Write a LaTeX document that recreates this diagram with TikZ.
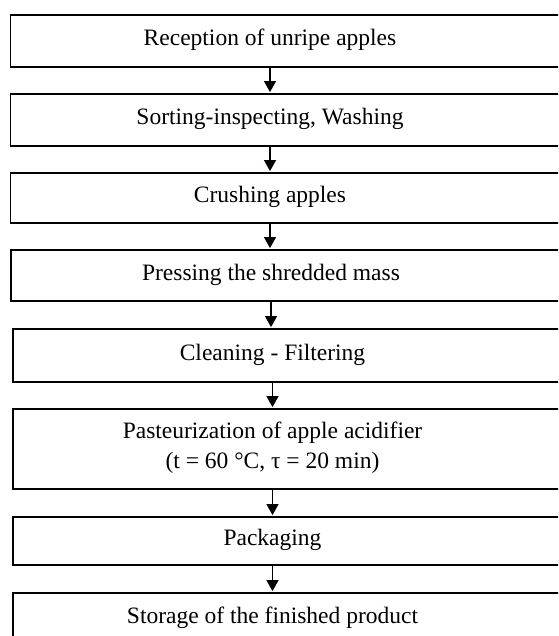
\documentclass[tikz,border=0pt]{standalone}
\usepackage{fontspec}
\setmainfont{Liberation Serif}
\usetikzlibrary{arrows.meta}
\tikzset{
  stepbox/.style={draw, line width=1.8pt, anchor=north west, minimum width=600pt, inner sep=0pt},
  txt/.style={font=\fontsize{23.5}{30}\selectfont, align=center, inner sep=0pt},
  arr/.style={-{Triangle[width=12pt,length=11pt]}, line width=1.1pt, shorten >=0.9pt}
}
\begin{document}
\begin{tikzpicture}[x=1pt,y=-1pt]
\useasboundingbox (0,0) rectangle (558,636);
\clip (0,0) rectangle (558,636);
\node[stepbox, minimum height=52pt] (b1) at (9.5,14) {};
\node[txt] (l1) at (270,40) {Reception of unripe apples};
\node[stepbox, minimum height=52pt] (b2) at (9.5,93) {};
\node[txt] (l2) at (270,119) {Sorting-inspecting, Washing};
\node[stepbox, minimum height=50pt] (b3) at (9.5,172) {};
\node[txt] (l3) at (270,197) {Crushing apples};
\node[stepbox, minimum height=51pt] (b4) at (10,249) {};
\node[txt] (l4) at (271,274.5) {Pressing the shredded mass};
\node[stepbox, minimum height=53pt] (b5) at (12,328) {};
\node[txt] (l5) at (272.5,354.5) {Cleaning - Filtering};
\node[stepbox, minimum height=80pt] (b6) at (12,408) {};
\node[txt] (l6) at (272.5,448) {Pasteurization of apple acidifier\\(t = 60 °C, τ = 20 min)};
\node[stepbox, minimum height=48pt] (b7) at (12,516) {};
\node[txt] (l7) at (272.5,540) {Packaging};
\node[stepbox, minimum height=52pt] (b8) at (12,592) {};
\node[txt] (l8) at (272.5,618) {Storage of the finished product};
\draw[arr] (b1.south -| l1) -- (b2.north -| l1);
\draw[arr] (b2.south -| l2) -- (b3.north -| l2);
\draw[arr] (b3.south -| l3) -- (b4.north -| l3);
\draw[arr] (b4.south -| l4) -- (b5.north -| l4);
\draw[arr] (b5.south -| l5) -- (b6.north -| l5);
\draw[arr] (b6.south -| l6) -- (b7.north -| l6);
\draw[arr] (b7.south -| l7) -- (b8.north -| l7);
\end{tikzpicture}
\end{document}
